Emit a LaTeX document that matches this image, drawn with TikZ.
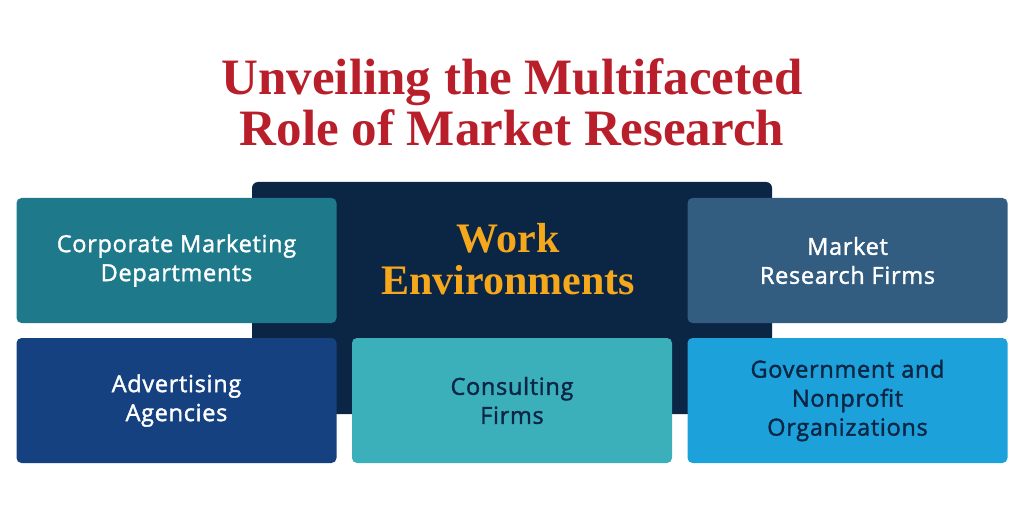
\documentclass[tikz,border=0pt]{standalone}
\usepackage{fontspec}
\setmainfont{Liberation Serif}
\newfontfamily\cardfont[FakeBold=1.6, LetterSpace=3]{Open Sans}
\definecolor{titlered}{HTML}{B81F2A}
\definecolor{navy}{HTML}{0B2545}
\definecolor{gold}{HTML}{F5A81C}
\definecolor{tealdark}{HTML}{1E7A8A}
\definecolor{slate}{HTML}{325D80}
\definecolor{royal}{HTML}{154181}
\definecolor{teallight}{HTML}{3BAFBA}
\definecolor{skyblue}{HTML}{1DA1DB}
\begin{document}
\begin{tikzpicture}[x=1pt, y=-1pt,
            card/.style={rectangle, rounded corners=5pt, minimum width=320pt, minimum height=125pt,
                         inner sep=0pt, align=center, text=white,
                         font=\cardfont\fontsize{23.5}{29}\selectfont},
            darktext/.style={text=navy}
            ]
            \useasboundingbox (0,0) rectangle (1024,521);

            % title
            \node[text=titlered, align=center, font=\bfseries\fontsize{51}{51}\selectfont] (title) at (512,102) {Unveiling the Multifaceted\\Role of Market Research};

            % back panel
            \node[fill=navy, rounded corners=6pt, minimum width=520pt, minimum height=232pt] (panel) at (512,298) {};
            \node[text=gold, align=center, font=\bfseries\fontsize{42}{42}\selectfont] (work) at (508,259) {Work\\Environments};

            % cards
            \node[card, fill=tealdark] (corp) at (176.5,260.5) {Corporate Marketing\\Departments};
            \node[card, fill=slate] (mrf) at (847.5,260.5) {Market\\Research Firms};
            \node[card, fill=royal] (adv) at (176.5,400.5) {Advertising\\Agencies};
            \node[card, fill=teallight, darktext] (cons) at (512,400.5) {Consulting\\Firms};
            \node[card, fill=skyblue, darktext] (gov) at (847.5,400.5) {Government and\\Nonprofit\\Organizations};

\end{tikzpicture}
\end{document}
